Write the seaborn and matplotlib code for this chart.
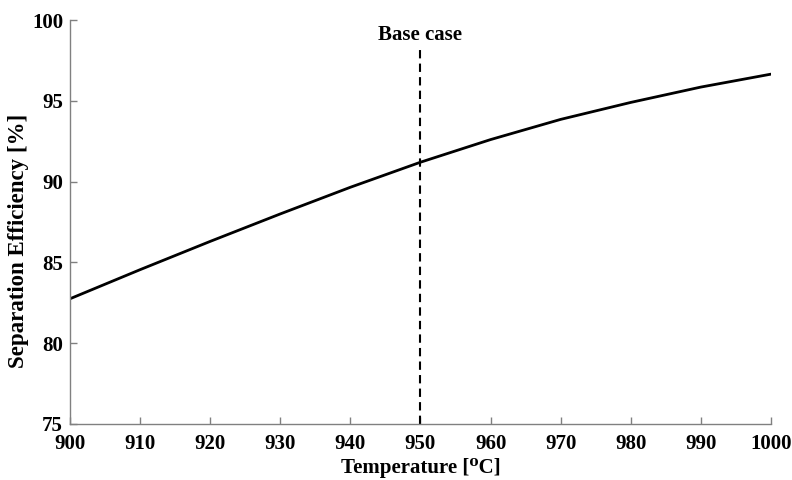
import matplotlib
matplotlib.use("Agg")
import matplotlib.pyplot as plt
import seaborn as sns
import pandas as pd

temperature = [900, 910, 920, 930, 940, 950, 960, 970, 980, 990, 1000]
efficiency = [82.75, 84.55, 86.3, 88.0, 89.65, 91.2, 92.6, 93.85, 94.9, 95.85, 96.65]
base_case_temp = 950
base_case_top = 98.2
x_ticks = [900, 910, 920, 930, 940, 950, 960, 970, 980, 990, 1000]
y_ticks = [75, 80, 85, 90, 95, 100]

sns.set_style("ticks")
plt.rcParams['font.family'] = ['Liberation Serif', 'DejaVu Serif']
plt.rcParams['font.weight'] = 'bold'
plt.rcParams['text.color'] = 'black'
plt.rcParams['axes.labelcolor'] = 'black'
plt.rcParams['xtick.labelcolor'] = 'black'
plt.rcParams['ytick.labelcolor'] = 'black'

df = pd.DataFrame({"T": temperature, "E": efficiency})

fig = plt.figure(figsize=(7.92, 4.8), dpi=100)
ax = fig.add_axes([0.0884, 0.1167, 0.885, 0.8416])
sns.lineplot(data=df, x="T", y="E", ax=ax, color="black", linewidth=2.0)
ax.plot([base_case_temp, base_case_temp], [75, base_case_top], color="black",
        linestyle=(0, (4, 2.5)), linewidth=1.5)
ax.text(base_case_temp, base_case_top + 0.25, "Base case", ha="center", va="bottom",
        fontsize=15, fontweight="bold", color="black")

ax.set_xlim(900, 1000)
ax.set_ylim(75, 100)
ax.set_xticks(x_ticks)
ax.set_yticks(y_ticks)
ax.tick_params(direction="in", length=5, width=1, color="#808080", labelsize=15)
ax.tick_params(axis="x", pad=7)
ax.tick_params(axis="y", pad=5)
for lab in ax.get_xticklabels() + ax.get_yticklabels():
    lab.set_fontweight("bold")
sns.despine(ax=ax)
for s in ["left", "bottom"]:
    ax.spines[s].set_color("#808080")
    ax.spines[s].set_linewidth(1)

ax.set_xlabel("Temperature [\u2070C]", fontsize=15, fontweight="bold")
ax.set_ylabel("Separation Efficiency [%]", fontsize=16.5, fontweight="bold")
ax.xaxis.set_label_coords(0.5, -0.084)
ax.yaxis.set_label_coords(-0.058, 0.453)

fig.savefig("out.png", dpi=100)
